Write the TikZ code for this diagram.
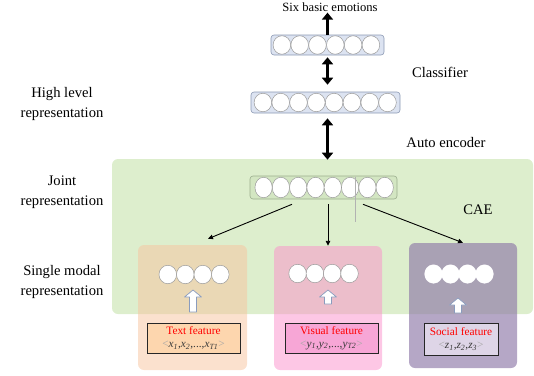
\documentclass[tikz,border=0pt]{standalone}
\usepackage{fontspec}
\setmainfont{Liberation Serif}
\usetikzlibrary{arrows.meta,positioning,calc,shapes.geometric}
\definecolor{caebg}{HTML}{DDEECD}
\definecolor{barfill}{HTML}{DCE3F1}
\definecolor{bardraw}{HTML}{8C99B3}
\definecolor{jointfill}{HTML}{D3E6C2}
\definecolor{jointdraw}{HTML}{9CAE8E}
\definecolor{celldraw}{HTML}{9A9A9A}
\definecolor{textbr}{HTML}{F8C49E}
\definecolor{visbr}{HTML}{FB8FCB}
\definecolor{socbr}{HTML}{8E78A8}
\definecolor{textft}{HTML}{FDD6AE}
\definecolor{visft}{HTML}{F7A6D6}
\definecolor{socft}{HTML}{DED5E7}
\definecolor{uparc}{HTML}{8A9CBE}
\definecolor{seqc}{HTML}{3A3A3A}
\newcommand{\ang}[1]{\textcolor{gray!70}{<}#1\textcolor{gray!70}{>}}
\newcommand{\vx}[2]{\textit{#1}\textsubscript{\textit{#2}}}
\newcommand{\hollowup}[3]{%
  \draw[uparr] (#1-3.5,#3) -- (#1-3.5,#2+7) -- (#1-8.5,#2+7) -- (#1,#2)
    -- (#1+8.5,#2+7) -- (#1+3.5,#2+7) -- (#1+3.5,#3) -- cycle;}
\tikzset{
  lbl/.style={font=\fontsize{14.6}{20}\selectfont,align=center,inner sep=0pt},
  bar/.style={draw=bardraw,fill=barfill,rounded corners=3pt,inner sep=0pt,line width=0.6pt},
  cell/.style={ellipse,draw=celldraw,fill=white,minimum width=17.6pt,minimum height=18.5pt,inner sep=0pt,line width=0.5pt},
  fat/.style={line width=3.6pt,-{Triangle[length=7pt,width=11pt]}},
  fatboth/.style={line width=3.6pt,{Triangle[length=7pt,width=11pt]}-{Triangle[length=7pt,width=11pt]}},
  ln/.style={line width=0.9pt,-{Triangle[length=5pt,width=4.5pt]}},
  branch/.style={rounded corners=6pt,inner sep=0pt,fill opacity=0.5},
  uparr/.style={draw=uparc,fill=white,line width=0.7pt,line join=round},
  feat/.style={draw=black!85,line width=0.7pt,inner sep=0pt,align=center,font=\fontsize{11.3}{13}\selectfont}
}
\begin{document}
\begin{tikzpicture}[x=1pt,y=-1pt]
\useasboundingbox (0,0) rectangle (534,375);
% CAE region
\fill[caebg,rounded corners=6pt] (112,159) rectangle (533,314);
% single modal branches
\node[branch,fill=textbr,minimum width=109pt,minimum height=125pt] (TB) at (192.5,307.5) {};
\node[branch,fill=visbr,minimum width=108pt,minimum height=124pt] (VB) at (328,308) {};
\node[branch,fill=socbr,fill opacity=0.65,minimum width=108pt,minimum height=125pt] (SB) at (463,305.5) {};
% layers
\node[bar,minimum width=113pt,minimum height=20pt] (L1) at (327.5,45) {};
\foreach \i in {0,...,5} \node[cell] (a\i) at (281.9+17.8*\i,45) {};
\node[bar,minimum width=149pt,minimum height=21pt] (L2) at (325.5,102.5) {};
\foreach \i in {0,...,7} \node[cell] (b\i) at (262.9+17.8*\i,102.5) {};
\node[bar,draw=jointdraw,fill=jointfill,minimum width=147pt,minimum height=23pt] (J) at (323.5,187.5) {};
\foreach \i in {0,...,7} \node[cell,minimum width=17.3pt,minimum height=20.5pt] (j\i) at (263.6+17.3*\i,187.5) {};
\foreach \i in {0,...,3} {
  \node[cell] (t\i) at (167.8+17.5*\i,274.5) {};
  \node[cell] (v\i) at (297.6+17.3*\i,273.5) {};
  \node[cell,draw=white] (s\i) at (433.5+17*\i,274) {};
}
% features
\node[feat,fill=textft,minimum width=93pt,minimum height=30pt] (TF) at (193.5,338)
  {\textcolor{red}{Text feature}\\\textcolor{seqc}{\ang{\vx{x}{1},\vx{x}{2},...,\vx{x}{T1}}}};
\node[feat,fill=visft,minimum width=93pt,minimum height=30pt] (VF) at (331.5,338)
  {\textcolor{red}{Visual feature}\\\textcolor{seqc}{\ang{\vx{y}{1},\vx{y}{2},...,\vx{y}{T2}}}};
\node[feat,fill=socft,minimum width=74pt,minimum height=32pt] (SF) at (461,339)
  {\textcolor{red}{Social feature}\\\textcolor{seqc}{\ang{\vx{z}{1},\vx{z}{2},\vx{z}{3}}}};
\hollowup{193}{290}{312}
\hollowup{328}{290}{304}
\hollowup{458}{298}{313}
% labels
\node[font=\fontsize{12.6}{14}\selectfont,inner sep=1pt] (emo) at (330,7) {Six basic emotions};
\node[lbl] (hl) at (62,104) {High level\\representation};
\node[lbl] (jr) at (62,192) {Joint\\representation};
\node[lbl] (sm) at (62,282) {Single modal\\representation};
\node[lbl] (cls) at (440,72) {Classifier};
\node[lbl] (ae) at (446,143) {Auto encoder};
\node[lbl] (cae) at (478,210) {CAE};
% arrows
\draw[fat] (L1.north) -- (L1.north |- emo.south);
\draw[fatboth] ($(L1.south)+(0,2)$) -- ($(L1.south |- L2.north)+(0,-7)$);
\draw[fatboth] ($(L1.south |- L2.south)+(0,5)$) -- ($(L1.south |- J.north)+(0,-16)$);
\draw[ln] ($(J.south)+(-31.5,5)$) -- ($(TB.north)+(15.5,-6)$);
\draw[ln] ($(J.south)+(4.5,5)$) -- (VB.north);
\draw[ln] ($(J.south)+(39.5,5)$) -- (SB.north);
\draw[gray!60,line width=0.5pt] ($(J.north)+(31.5,1)$) -- ++(0,45);
\end{tikzpicture}
\end{document}
